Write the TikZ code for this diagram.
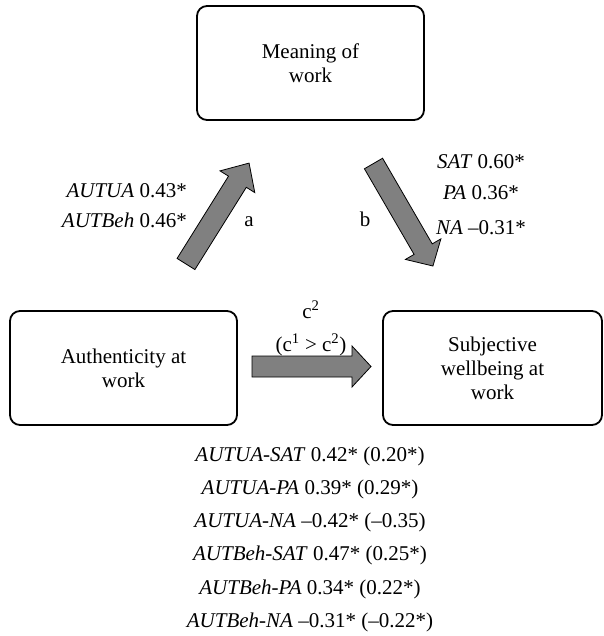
\documentclass[tikz,border=0pt]{standalone}
\usepackage{fontspec}
\setmainfont{Liberation Serif}
\definecolor{arrowgray}{HTML}{808080}
\newcommand\barrowpath[4]{(0,-#3) -- (#1-#2,-#3) -- (#1-#2,-#4) -- (#1,0) -- (#1-#2,#4) -- (#1-#2,#3) -- (0,#3) -- cycle}
\begin{document}
\begin{tikzpicture}[x=1pt,y=-1pt,
  every node/.style={font=\fontsize{21}{24}\selectfont},
  boxnode/.style={draw, line width=1.8pt, rounded corners=10pt, minimum width=227pt, minimum height=114pt, align=center, inner sep=0pt},
  lbl/.style={inner sep=0pt},
  blockarrow/.style={fill=arrowgray, draw=black, line width=0.8pt, line join=miter}]
\useasboundingbox (0,0) rectangle (603,636);
% boxes
\node[boxnode] (mean) at (310.5,63) {Meaning of\\work};
\node[boxnode] (auth) at (123.5,368) {Authenticity at\\work};
\node[boxnode, minimum width=219pt] (swb) at (492.5,368) {Subjective\\wellbeing at\\work};
% block arrows
\coordinate (aT) at (186,264);
\coordinate (bT) at (373.5,163.5);
\coordinate (cT) at (252,366.5);
\draw[blockarrow, shift={(aT)}, rotate=58] \barrowpath{119}{22}{10.5}{20.5};
\draw[blockarrow, shift={(bT)}, rotate=-59.9] \barrowpath{118.5}{19.5}{10.5}{20.5};
\draw[blockarrow, shift={(cT)}] \barrowpath{119}{19}{10.5}{20.5};
% path a labels
\node[lbl, anchor=base east] (la1) at (187,198) {\textit{AUTUA} 0.43*};
\node[lbl, anchor=base east] (la2) at (187,227) {\textit{AUTBeh} 0.46*};
\node[lbl, anchor=base] (la) at (249,226) {a};
% path b labels
\node[lbl, anchor=base] (lb) at (365,226) {b};
\node[lbl, anchor=base] (lb1) at (481,169) {\textit{SAT} 0.60*};
\node[lbl, anchor=base] (lb2) at (481,200) {\textit{PA} 0.36*};
\node[lbl, anchor=base] (lb3) at (481,234) {\textit{NA} –0.31*};
% path c labels
\node[lbl, anchor=base] (lc1) at (311,318) {c\textsuperscript{2}};
\node[lbl, anchor=base] (lc2) at (311,351) {(c\textsuperscript{1} > c\textsuperscript{2})};
% bottom list
\node[lbl, anchor=base] (r1) at (310,461) {\textit{AUTUA-SAT} 0.42* (0.20*)};
\node[lbl, anchor=base] (r2) at (310,494) {\textit{AUTUA-PA} 0.39* (0.29*)};
\node[lbl, anchor=base] (r3) at (310,527) {\textit{AUTUA-NA} –0.42* (–0.35)};
\node[lbl, anchor=base] (r4) at (310,560) {\textit{AUTBeh-SAT} 0.47* (0.25*)};
\node[lbl, anchor=base] (r5) at (310,594) {\textit{AUTBeh-PA} 0.34* (0.22*)};
\node[lbl, anchor=base] (r6) at (310,627) {\textit{AUTBeh-NA} –0.31* (–0.22*)};
\end{tikzpicture}
\end{document}
